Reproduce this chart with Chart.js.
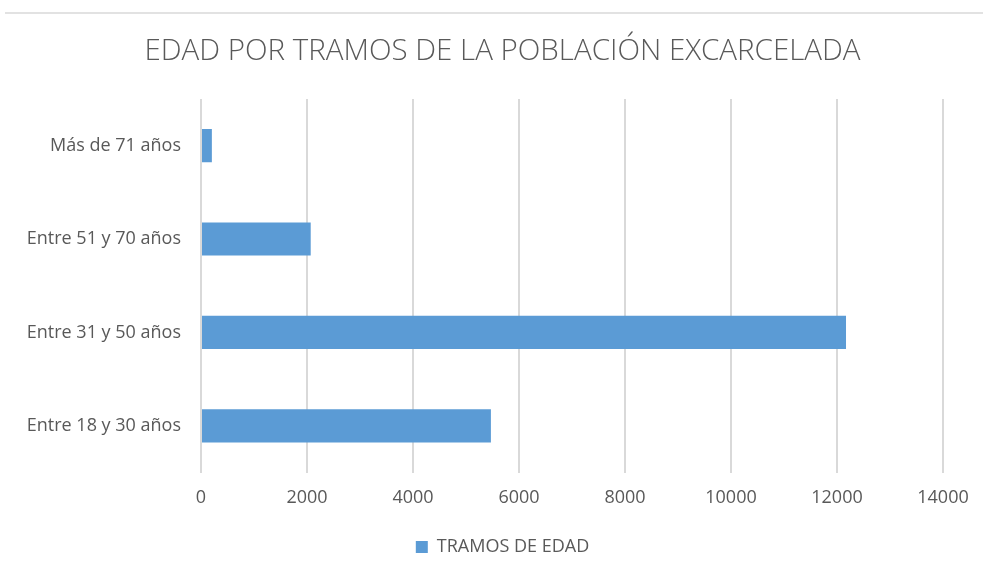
<!DOCTYPE html>
<html>
<head>
<meta charset="utf-8">
<script src="https://cdn.jsdelivr.net/npm/chart.js@4"></script>
<style>
    html, body { margin: 0; padding: 0; background: #fff; }
    #wrap { position: relative; width: 983px; height: 574px; }
    #topLine { position: absolute; left: 5px; right: 0; top: 12px; border-top: 2px solid #e2e2e2; }
</style>
</head>
<body>
<div id="wrap">
    <div id="topLine"></div>
    <canvas id="ageChart" width="983" height="574"></canvas>
</div>
<script>
//chart data, top row first
const ageGroups = ["Más de 71 años", "Entre 51 y 70 años", "Entre 31 y 50 años", "Entre 18 y 30 años"];
const releasedCounts = [205, 2070, 12170, 5470];
const seriesName = "TRAMOS DE EDAD";
const chartTitle = "EDAD POR TRAMOS DE LA POBLACIÓN EXCARCELADA";
const xMin = 0;
const xMax = 14000;
const xStep = 2000;

Chart.defaults.font.family = "'Open Sans', sans-serif";
Chart.defaults.color = "#595959";

//the y labels stick out past the left padding, so stop them being clipped
const unclipLabels = {
    id: "unclipLabels",
    beforeDraw(chart) {
        chart.scales.y.left = 0;
    }
};

const ageChart = new Chart(document.getElementById("ageChart"), {
    type: "bar",
    data: {
        labels: ageGroups,
        datasets: [{
            label: seriesName,
            data: releasedCounts,
            backgroundColor: "#5b9bd5",
            borderWidth: 0,
            categoryPercentage: 0.355,
            barPercentage: 1
        }]
    },
    options: {
        indexAxis: "y",
        responsive: false,
        animation: false,
        //left/right padding keeps title and legend centred like the original
        layout: { padding: { left: 62, right: 40, top: 0, bottom: 8 } },
        plugins: {
            title: {
                display: true,
                text: chartTitle,
                color: "#595959",
                font: { size: 29.5, weight: "300" },
                padding: { top: 34, bottom: 29.5 }
            },
            legend: {
                position: "bottom",
                labels: {
                    boxWidth: 12,
                    boxHeight: 12,
                    padding: 10,
                    color: "#595959",
                    font: { size: 18 }
                }
            },
            tooltip: { enabled: false }
        },
        scales: {
            x: {
                min: xMin,
                max: xMax,
                ticks: {
                    stepSize: xStep,
                    padding: 14.7,
                    font: { size: 18 },
                    color: "#595959",
                    callback: (value) => String(value) //no thousands separator
                },
                grid: { color: "#d9d9d9", lineWidth: 2, drawTicks: false },
                border: { display: false },
                afterFit: function (scale) {
                    scale.paddingRight = 30; //let the layout padding decide the right edge
                    scale.height = 55.5; //plot bottom ends near y=471
                }
            },
            y: {
                ticks: { padding: 20, font: { size: 18 }, color: "#595959" },
                grid: { display: false, drawTicks: false },
                border: { display: false },
                afterFit: function (scale) {
                    scale.width = 139; //plot starts at x=201 like the original
                }
            }
        }
    },
    plugins: [unclipLabels]
});
</script>
</body>
</html>
